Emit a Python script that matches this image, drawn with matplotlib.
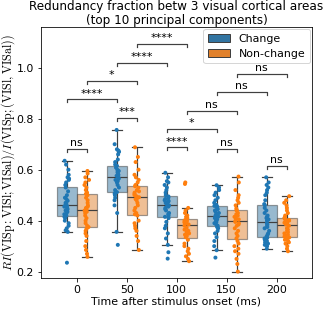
import matplotlib
matplotlib.use("Agg")
import matplotlib.pyplot as plt
import matplotlib.patches as mpatches
import numpy as np
import pandas as pd
import seaborn as sns

np.random.seed(3)

times = [0, 50, 100, 150, 200]
conds = ["Change", "Non-change"]

# redundancy fraction per session
ch_0 = [0.235, 0.356, 0.362, 0.37, 0.38, 0.39, 0.40, 0.41, 0.415, 0.42, 0.425, 0.43, 0.435, 0.44, 0.445, 0.45, 0.455, 0.458,
        0.462, 0.466, 0.47, 0.478, 0.485, 0.49, 0.50, 0.515, 0.53, 0.54, 0.55, 0.56, 0.565, 0.57, 0.58, 0.60, 0.62, 0.635]
nc_0 = [0.258, 0.27, 0.285, 0.30, 0.32, 0.34, 0.35, 0.36, 0.368, 0.375, 0.38, 0.39, 0.40, 0.41, 0.42, 0.43, 0.435, 0.44,
        0.444, 0.45, 0.455, 0.46, 0.47, 0.48, 0.49, 0.50, 0.505, 0.51, 0.52, 0.53, 0.54, 0.55, 0.56, 0.57, 0.585, 0.595]
ch_50 = [0.305, 0.356, 0.43, 0.46, 0.48, 0.49, 0.50, 0.505, 0.508, 0.512, 0.52, 0.53, 0.54, 0.55, 0.555, 0.56, 0.565, 0.57,
         0.572, 0.576, 0.58, 0.585, 0.59, 0.595, 0.60, 0.608, 0.615, 0.62, 0.63, 0.64, 0.66, 0.67, 0.675, 0.68, 0.70, 0.756]
nc_50 = [0.285, 0.32, 0.34, 0.36, 0.37, 0.38, 0.39, 0.40, 0.42, 0.425, 0.43, 0.44, 0.45, 0.46, 0.47, 0.48, 0.485, 0.49,
         0.492, 0.496, 0.50, 0.505, 0.51, 0.515, 0.52, 0.53, 0.535, 0.54, 0.55, 0.56, 0.57, 0.58, 0.60, 0.63, 0.65, 0.688]
ch_100 = [0.251, 0.276, 0.305, 0.33, 0.35, 0.37, 0.38, 0.395, 0.41, 0.415, 0.42, 0.425, 0.43, 0.44, 0.445, 0.45, 0.455, 0.46,
          0.462, 0.465, 0.47, 0.475, 0.478, 0.48, 0.485, 0.49, 0.495, 0.50, 0.51, 0.52, 0.53, 0.54, 0.55, 0.555, 0.57, 0.588]
nc_100 = [0.241, 0.25, 0.26, 0.27, 0.28, 0.29, 0.30, 0.31, 0.325, 0.335, 0.34, 0.345, 0.35, 0.355, 0.36, 0.365, 0.372, 0.38,
          0.385, 0.39, 0.392, 0.395, 0.398, 0.40, 0.402, 0.404, 0.405, 0.408, 0.41, 0.415, 0.42, 0.43, 0.44, 0.45, 0.544, 0.55]
ch_150 = [0.255, 0.284, 0.30, 0.32, 0.335, 0.35, 0.36, 0.37, 0.375, 0.38, 0.385, 0.39, 0.395, 0.40, 0.405, 0.41, 0.414, 0.416,
          0.42, 0.425, 0.43, 0.435, 0.44, 0.445, 0.45, 0.455, 0.458, 0.462, 0.47, 0.48, 0.49, 0.50, 0.51, 0.52, 0.53, 0.539]
nc_150 = [0.20, 0.23, 0.25, 0.27, 0.28, 0.29, 0.30, 0.31, 0.32, 0.33, 0.34, 0.35, 0.36, 0.37, 0.38, 0.385, 0.39, 0.395,
          0.40, 0.405, 0.41, 0.415, 0.42, 0.425, 0.43, 0.44, 0.442, 0.448, 0.46, 0.47, 0.48, 0.49, 0.50, 0.52, 0.55, 0.573]
ch_200 = [0.29, 0.30, 0.305, 0.31, 0.315, 0.32, 0.325, 0.33, 0.333, 0.338, 0.345, 0.35, 0.36, 0.37, 0.375, 0.38, 0.385, 0.39,
          0.40, 0.405, 0.41, 0.415, 0.42, 0.43, 0.44, 0.45, 0.46, 0.465, 0.48, 0.50, 0.51, 0.52, 0.53, 0.54, 0.55, 0.57]
nc_200 = [0.28, 0.29, 0.30, 0.31, 0.315, 0.32, 0.325, 0.33, 0.334, 0.338, 0.34, 0.345, 0.35, 0.355, 0.36, 0.365, 0.37, 0.38,
          0.385, 0.39, 0.392, 0.395, 0.398, 0.40, 0.403, 0.406, 0.41, 0.413, 0.42, 0.43, 0.44, 0.45, 0.46, 0.47, 0.48, 0.496]

change_vals = [ch_0, ch_50, ch_100, ch_150, ch_200]
nonchange_vals = [nc_0, nc_50, nc_100, nc_150, nc_200]

# significance tests: (time1, cond1, time2, cond2, label, bracket height)
pairs = [
    (0, "Change", 0, "Non-change", "ns", 0.681),
    (50, "Change", 50, "Non-change", "***", 0.804),
    (0, "Change", 50, "Change", "****", 0.876),
    (0, "Non-change", 50, "Non-change", "*", 0.948),
    (50, "Change", 100, "Change", "****", 1.020),
    (50, "Non-change", 100, "Non-change", "****", 1.093),
    (100, "Change", 100, "Non-change", "****", 0.688),
    (100, "Change", 150, "Change", "*", 0.760),
    (100, "Non-change", 150, "Non-change", "ns", 0.831),
    (150, "Change", 200, "Change", "ns", 0.904),
    (150, "Non-change", 200, "Non-change", "ns", 0.975),
    (150, "Change", 150, "Non-change", "ns", 0.681),
    (200, "Change", 200, "Non-change", "ns", 0.615),
]

rows = []
for t, a, b in zip(times, change_vals, nonchange_vals):
    for v in a:
        rows.append((t, "Change", v))
    for v in b:
        rows.append((t, "Non-change", v))
df = pd.DataFrame(rows, columns=["time", "cond", "ri"])

plt.rcParams['mathtext.fontset'] = 'cm'
plt.rcParams['font.size'] = 11
fig = plt.figure(figsize=(4.5, 312 / 72), dpi=72)
ax = fig.add_axes([0.1265, 0.109, 0.8365, 0.8045])

pal = ["#1f77b4", "#ff7f0e"]
box_cols = sns.color_palette(pal, desat=0.75)
sns.boxplot(data=df, x="time", y="ri", hue="cond", hue_order=conds, palette=pal,
            showfliers=False, ax=ax, linewidth=1.2, legend=False)
for p in ax.patches:
    p.set_alpha(0.5)
sns.stripplot(data=df, x="time", y="ri", hue="cond", hue_order=conds, palette=pal,
              dodge=True, jitter=0.1, size=4, ax=ax, legend=False)

# brackets
off = {"Change": -0.2, "Non-change": 0.2}
h = 0.012
for t1, c1, t2, c2, lab, y in pairs:
    x1 = times.index(t1) + off[c1]
    x2 = times.index(t2) + off[c2]
    ax.plot([x1, x1, x2, x2], [y - h, y, y, y - h], color="0.25", lw=1.2, zorder=1)
    ax.text((x1 + x2) / 2, y + 0.003, lab, ha="center", va="bottom", fontsize=11, zorder=1)

ax.set_xlim(-0.714, 4.706)
ax.set_ylim(0.175, 1.160)
ax.set_yticks([0.2, 0.4, 0.6, 0.8, 1.0])
ax.set_xlabel("Time after stimulus onset (ms)", labelpad=2)
ax.set_ylabel(r"$RI(\mathrm{VISp}:\mathrm{VISl};\mathrm{VISal})/I(\mathrm{VISp};(\mathrm{VISl},\mathrm{VISal}))$",
              fontsize=12)
ax.yaxis.set_label_coords(-0.09, 0.5)
ax.set_title("Redundancy fraction betw 3 visual cortical areas\n(top 10 principal components)",
             fontsize=12, pad=1, linespacing=1.05)
handles = [mpatches.Patch(facecolor=c, edgecolor="0.25", label=l) for c, l in zip(box_cols, conds)]
ax.legend(handles=handles, loc="upper right", borderaxespad=0.2)

fig.savefig("out.png", dpi=72)
